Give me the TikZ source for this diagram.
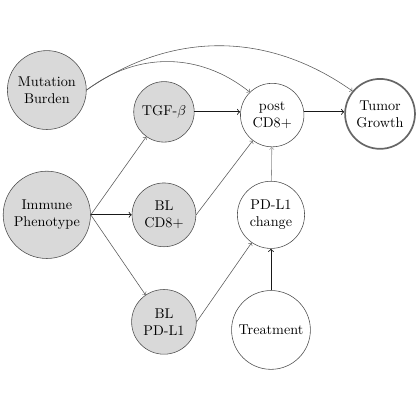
\documentclass[tikz,border=0pt]{standalone}
\usetikzlibrary{arrows}

\tikzset{
  var/.style={circle, draw=black!70, align=center, inner sep=4pt},
  obs/.style={var, fill=gray!30},
  outcome/.style={var, draw=black!60, line width=1.2pt},
  strong/.style={->, black!90, semithick},
  weak/.style={->, black!65},
  faint/.style={->, black!45}
}

\begin{document}
\begin{tikzpicture}
\useasboundingbox (0,0) rectangle (10.4,10.4);

\node[obs] (burden) at (1.16,8.17) {Mutation\\Burden};
\node[obs] (pheno) at (1.16,5.08) {Immune\\Phenotype};
\node[obs] (tgf) at (4.06,7.63) {TGF-$\beta$};
\node[obs] (blcd) at (4.06,5.08) {BL\\CD8+};
\node[obs] (blpd) at (4.06,2.43) {BL\\PD-L1};
\node[var] (postcd) at (6.74,7.55) {post\\CD8+};
\node[var] (pdchange) at (6.71,5.08) {PD-L1\\change};
\node[var] (treat) at (6.71,2.23) {Treatment};
\node[outcome] (tumor) at (9.41,7.58) {Tumor\\Growth};

\draw[weak] (burden.east) to[bend left=38] (postcd);
\draw[weak] (burden.east) to[bend left=35] (tumor);
\draw[weak] (pheno.east) -- (tgf);
\draw[strong] (pheno.east) -- (blcd);
\draw[weak] (pheno.east) -- (blpd);
\draw[strong] (tgf) -- (tgf -| postcd.west);
\draw[weak] (blcd.east) -- (postcd);
\draw[weak] (blpd.east) -- (pdchange);
\draw[faint] (pdchange) -- (postcd);
\draw[strong] (treat) -- (pdchange);
\draw[strong] (tgf -| postcd.east) -- (tgf -| tumor.west);
\end{tikzpicture}
\end{document}
